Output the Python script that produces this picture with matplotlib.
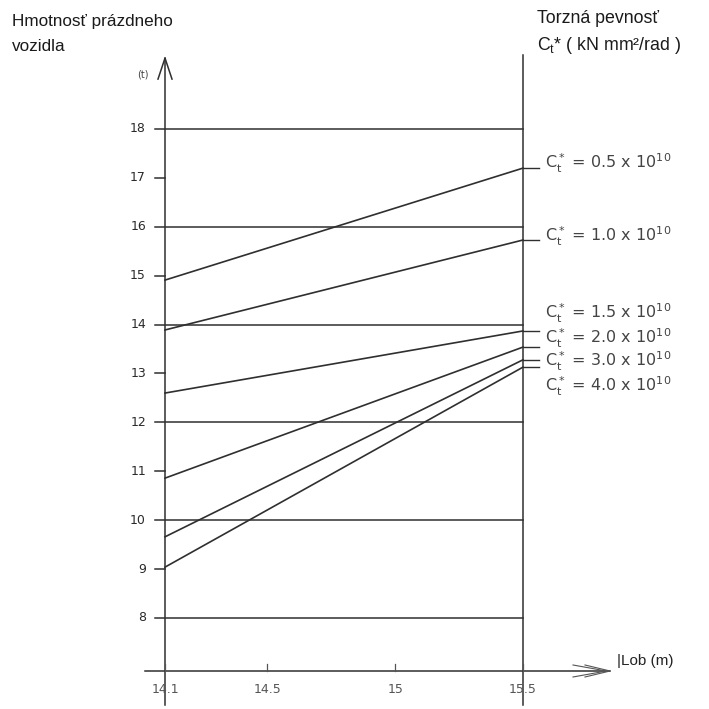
import matplotlib.pyplot as plt

# data
lengths = [14.1, 15.5]
ct_labels = ["0.5", "1.0", "1.5", "2.0", "3.0", "4.0"]
mass_at_141 = [14.91, 13.89, 12.60, 10.86, 9.66, 9.04]
mass_at_155 = [17.20, 15.73, 13.87, 13.54, 13.28, 13.13]
label_y = [17.30, 15.80, 14.22, 13.72, 13.25, 12.73]
grid_vals = [18, 16, 14, 12, 10, 8]
tick_vals = [8, 9, 10, 11, 12, 13, 14, 15, 16, 17, 18]
x_ticks = [14.1, 14.5, 15, 15.5]
x_tick_labels = ["14.1", "14.5", "15", "15.5"]

ink = "#2f2f2f"
pencil = "#555555"

fig = plt.figure(figsize=(7.09, 7.09), dpi=100)
ax = fig.add_axes([0, 0, 1, 1])
ax.set_xlim(13.4547, 16.2275)
ax.set_ylim(6.139, 20.638)
ax.axis("off")

# helpers to convert pixel offsets to data units
ux = 1 / 255.7
uy = 1 / 48.9
x_axis_y = 8 - 53 * uy

# left vertical axis with arrow
ax.plot([14.1, 14.1], [6.22, 19.45], color=ink, lw=1.1)
ax.plot([14.1 - 7 * ux, 14.1, 14.1 + 7 * ux], [19.45 - 21 * uy, 19.45, 19.45 - 21 * uy], color=ink, lw=1.1)
# right vertical line
ax.plot([15.5, 15.5], [6.22, 19.51], color=ink, lw=1.1)

# horizontal grid lines
for v in grid_vals:
    ax.plot([14.1 - 10 * ux, 15.5], [v, v], color=ink, lw=1.1)
for v in tick_vals:
    if v not in grid_vals:
        ax.plot([14.1 - 10 * ux, 14.1], [v, v], color=ink, lw=1.1)
    ax.text(14.1 - 19 * ux, v, str(v), ha="right", va="center", fontsize=9, color="#2a2a2a")
ax.text(14.1 - 16 * ux, 19.11, "(t)", ha="right", va="center", fontsize=7, color="#444444")

# x axis with arrow
ax.plot([14.1 - 20 * ux, 14.1 + 445 * ux], [x_axis_y, x_axis_y], color=ink, lw=1.1)
xa = 14.1 + 445 * ux
for k in (0, 12):
    ax.plot([xa - (25 + k) * ux, xa - k * ux * 0.3, xa - (25 + k) * ux], [x_axis_y + 6 * uy, x_axis_y, x_axis_y - 6 * uy],
            color=pencil, lw=0.8)
ax.text(xa + 7 * ux, x_axis_y + 10 * uy, "|Lob (m)", ha="left", va="center", fontsize=11,
        family="Liberation Sans", color="#222222")
for xt, lab in zip(x_ticks, x_tick_labels):
    ax.plot([xt, xt], [x_axis_y, x_axis_y + 7 * uy], color=pencil, lw=0.9)
    ax.text(xt, x_axis_y - 19 * uy, lab, ha="center", va="center", fontsize=9, color="#555555")

# C_t* lines
for lab, y0, y1, ly in zip(ct_labels, mass_at_141, mass_at_155, label_y):
    ax.plot(lengths, [y0, y1], color=ink, lw=1.2)
    ax.plot([15.5, 15.5 + 16 * ux], [y1, y1], color=ink, lw=1.0)
    ax.text(15.5 + 22 * ux, ly, r"$\mathregular{C_t^*}$ = " + lab + r" x 10$^{\mathregular{10}}$",
            ha="left", va="center", fontsize=11.5, color="#444444")

# titles
fig.text(12 / 709, 1 - 14 / 709, "Hmotnosť prázdneho\nvozidla", ha="left", va="top", fontsize=12.3,
         family="Liberation Sans", color="#1a1a1a", linespacing=1.85)
fig.text(537 / 709, 1 - 10 / 709, "Torzná pevnosť", ha="left", va="top", fontsize=12.8,
         family="Liberation Sans", color="#1a1a1a")
fig.text(537 / 709, 1 - 35 / 709, r"C$_\mathregular{t}$* ( kN mm²/rad )", ha="left", va="top", fontsize=12.8,
         family="Liberation Sans", color="#1a1a1a")

fig.savefig("out.png", dpi=100, facecolor="white")
